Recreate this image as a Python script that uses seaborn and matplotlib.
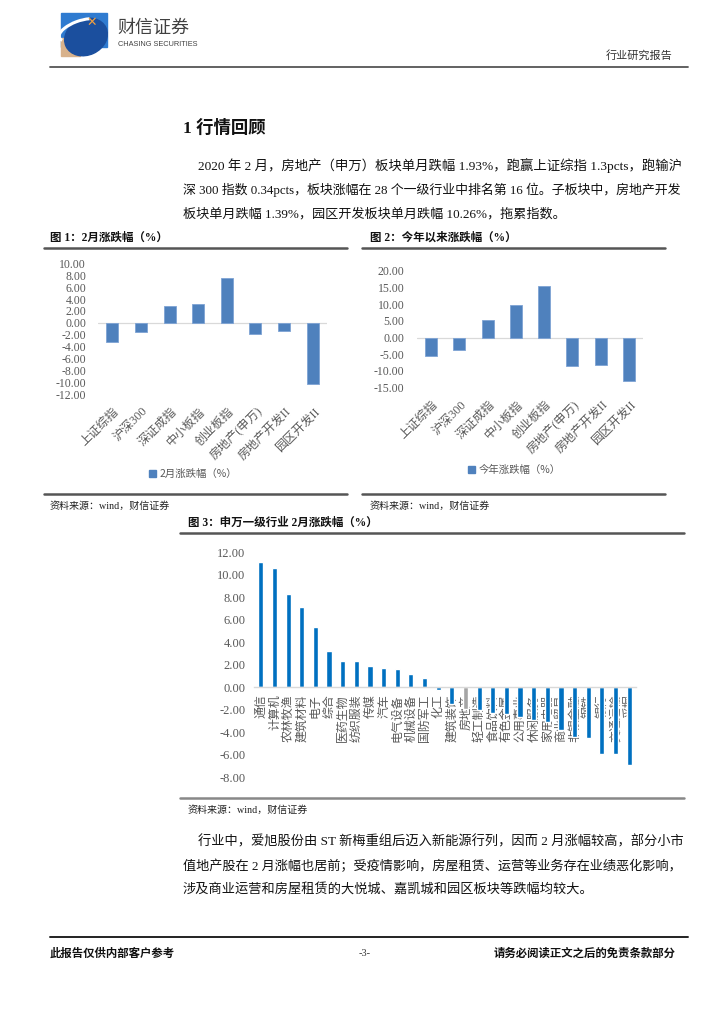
import numpy as np
import pandas as pd
import matplotlib
matplotlib.use("Agg")
import matplotlib.pyplot as plt
import matplotlib.transforms as mtransforms
import seaborn as sns
from matplotlib.patches import Rectangle, Ellipse, Arc, Patch

# ---------------- data ----------------
fig1_cats = ["上证综指", "沪深300", "深证成指", "中小板指", "创业板指",
             "房地产(申万)", "房地产开发II", "园区开发II"]
fig1_vals = [-3.23, -1.59, 2.80, 3.10, 7.50, -1.93, -1.39, -10.26]
fig1_ticks = [10, 8, 6, 4, 2, 0, -2, -4, -6, -8, -10, -12]
fig1_legend = "2月涨跌幅（%）"

fig2_cats = fig1_cats
fig2_vals = [-5.60, -3.80, 5.20, 9.60, 15.30, -8.40, -8.10, -13.10]
fig2_ticks = [20, 15, 10, 5, 0, -5, -10, -15]
fig2_legend = "今年涨跌幅（%）"

fig3_cats = ["通信", "计算机", "农林牧渔", "建筑材料", "电子", "综合", "医药生物",
             "纺织服装", "传媒", "汽车", "电气设备", "机械设备", "国防军工", "化工",
             "建筑装饰", "房地产", "轻工制造", "食品饮料", "有色金属", "公用事业",
             "休闲服务", "家用电器", "商业贸易", "非银金融", "钢铁", "银行",
             "交通运输", "采掘"]
fig3_vals = [11.10, 10.60, 8.30, 7.15, 5.35, 3.20, 2.35, 2.33, 1.85, 1.75, 1.65,
             1.18, 0.85, -0.20, -1.50, -1.93, -2.00, -2.30, -2.40, -2.65, -2.90,
             -3.05, -3.80, -4.40, -4.50, -5.95, -5.95, -6.90]
fig3_ticks = [12, 10, 8, 6, 4, 2, 0, -2, -4, -6, -8]
fig3_highlight = "房地产"

para1 = ["2020 年 2 月，房地产（申万）板块单月跌幅 1.93%，跑赢上证综指 1.3pcts，跑输沪",
         "深 300 指数 0.34pcts，板块涨幅在 28 个一级行业中排名第 16 位。子板块中，房地产开发",
         "板块单月跌幅 1.39%，园区开发板块单月跌幅 10.26%，拖累指数。"]
para2 = ["行业中，爱旭股份由 ST 新梅重组后迈入新能源行列，因而 2 月涨幅较高，部分小市",
         "值地产股在 2 月涨幅也居前；受疫情影响，房屋租赁、运营等业务存在业绩恶化影响，",
         "涉及商业运营和房屋租赁的大悦城、嘉凯城和园区板块等跌幅均较大。"]

# ---------------- style ----------------
sns.set_theme(style="white")
SERIF = ["Liberation Serif", "Noto Sans CJK SC"]
SANS = ["Noto Sans CJK SC", "DejaVu Sans"]
plt.rcParams["font.family"] = SERIF
plt.rcParams["axes.unicode_minus"] = False

BLUE1 = "#4F81BD"
BLUE3 = "#0070C0"
GREY3 = "#A5A5A5"
TXT = "#595959"

W, H = 724, 1024
fig = plt.figure(figsize=(W / 100, H / 100), dpi=100)
fig.patch.set_facecolor("white")

page = fig.add_axes([0, 0, 1, 1], zorder=0)
page.set_xlim(0, W)
page.set_ylim(H, 0)
page.axis("off")


def px_axes(x0, y0, x1, y1):
    return fig.add_axes([x0 / W, 1 - y1 / H, (x1 - x0) / W, (y1 - y0) / H], zorder=2)


# ---------------- header ----------------
page.add_patch(Rectangle((61, 13), 46, 34, color="#2F7BD0", zorder=1))
page.add_patch(Rectangle((61, 38), 19, 18, color="#D8B28C", zorder=1))
page.add_patch(Ellipse((86, 37), 44, 36, angle=-25, color="#1B4F9E", zorder=2))
page.add_patch(Arc((80, 30), 44, 18, angle=-20, theta1=170, theta2=330,
                   color="white", lw=2.2, zorder=3))
page.text(92, 22, "✕", color="#F2A040", fontsize=9, ha="center", va="center",
          family=["DejaVu Sans"], zorder=4, fontweight="bold")
page.text(117, 28, "财信证券", fontsize=13, color="#404040", family=SANS,
          va="center", ha="left")
page.text(118, 44.5, "CHASING SECURITIES", fontsize=5.3, color="#404040",
          family=["Liberation Sans", "DejaVu Sans"], va="center", ha="left")
page.text(672, 55, "行业研究报告", fontsize=8, color="#333333", family=SANS,
          ha="right", va="center")
page.plot([50, 688], [67, 67], color="#555555", lw=1.3)

# ---------------- section title ----------------
page.text(183, 128, "1 行情回顾", fontsize=12.5, fontweight="bold", color="#111111",
          family=SERIF, va="center", ha="left")


def paragraph(lines, y0):
    arts = []
    for i, line in enumerate(lines):
        x = 198 if i == 0 else 183
        t = page.text(x, y0 + 24 * i, line, fontsize=9.2, color="#111111",
                      family=SERIF, va="center", ha="left")
        arts.append((t, 682 - x))
    return arts


para_arts = [paragraph(para1, 166), paragraph(para2, 842)]


# ---------------- small charts ----------------
def small_chart(ax, cats, vals, ticks, ypad):
    df = pd.DataFrame({"cat": cats, "val": vals})
    sns.barplot(data=df, x="cat", y="val", color=BLUE1, width=0.42, saturation=1,
                ax=ax, edgecolor="#7EA3D4", linewidth=0.6)
    ax.set_xlim(-0.5, len(cats) - 0.5)
    ax.set_ylim(ticks[-1], ticks[0])
    ax.set_yticks(ticks)
    ax.set_yticklabels([f"{t:.2f}" for t in ticks])
    ax.axhline(0, color="#D9D9D9", lw=0.9, zorder=0.5)
    for s in ax.spines.values():
        s.set_visible(False)
    ax.set_facecolor("none")
    ax.set_xlabel("")
    ax.set_ylabel("")
    ax.tick_params(axis="y", length=0, colors=TXT, labelsize=8.5, pad=ypad)
    ax.tick_params(axis="x", length=0, colors=TXT, labelsize=8.7, pad=11)
    ax.set_xticks(range(len(cats)))
    ax.set_xticklabels(cats, rotation=45, ha="right", va="center",
                       rotation_mode="anchor")
    off = mtransforms.ScaledTranslation(5 / 100, 0, fig.dpi_scale_trans)
    for lab in ax.get_xticklabels():
        lab.set_transform(lab.get_transform() + off)


# Figure 1
page.text(50, 238, "图 1：2月涨跌幅（%）", fontsize=8.3, fontweight="bold",
          family=SERIF, color="#111111", va="center")
page.plot([44, 347], [247.5, 247.5], color="#555555", lw=1.8)
ax1 = px_axes(98, 263.3, 327, 394.3)
small_chart(ax1, fig1_cats, fig1_vals, fig1_ticks, ypad=8.5)
page.plot([44, 347], [493.5, 493.5], color="#555555", lw=1.8)
page.text(50, 506, "资料来源：wind，财信证券", fontsize=7.2, family=SERIF,
          color="#222222", va="center")
fig.legend(handles=[Patch(color=BLUE1, label=fig1_legend)], loc="center",
           bbox_to_anchor=(193 / W, 1 - 474 / H), frameon=False, handlelength=0.7,
           handleheight=0.7, handletextpad=0.3,
           prop={"family": SANS, "size": 7.5}, labelcolor=TXT)

# Figure 2
page.text(370, 238, "图 2：今年以来涨跌幅（%）", fontsize=8.3, fontweight="bold",
          family=SERIF, color="#111111", va="center")
page.plot([362, 665], [247.5, 247.5], color="#555555", lw=1.8)
ax2 = px_axes(417, 270.7, 643, 387.7)
small_chart(ax2, fig2_cats, fig2_vals, fig2_ticks, ypad=9)
page.plot([362, 665], [493.5, 493.5], color="#555555", lw=1.8)
page.text(370, 506, "资料来源：wind，财信证券", fontsize=7.2, family=SERIF,
          color="#222222", va="center")
fig.legend(handles=[Patch(color=BLUE1, label=fig2_legend)], loc="center",
           bbox_to_anchor=(514 / W, 1 - 470 / H), frameon=False, handlelength=0.7,
           handleheight=0.7, handletextpad=0.3,
           prop={"family": SANS, "size": 7.5}, labelcolor=TXT)

# ---------------- Figure 3 ----------------
page.text(188, 522.5, "图 3：申万一级行业 2月涨跌幅（%）", fontsize=8.3,
          fontweight="bold", family=SERIF, color="#111111", va="center")
page.plot([180, 684], [533, 533], color="#555555", lw=1.8)

ax3 = px_axes(254, 552.3, 636, 777.3)
df3 = pd.DataFrame({"cat": fig3_cats, "val": fig3_vals})
pal3 = {c: (GREY3 if c == fig3_highlight else BLUE3) for c in fig3_cats}
sns.barplot(data=df3, x="cat", y="val", hue="cat", palette=pal3, width=0.38,
            saturation=1, legend=False, ax=ax3)
ax3.set_xlim(-0.5, len(fig3_cats) - 0.5)
ax3.set_ylim(fig3_ticks[-1], fig3_ticks[0])
ax3.set_yticks(fig3_ticks)
ax3.set_yticklabels([f"{t:.2f}" for t in fig3_ticks])
for k in ["top", "right", "left"]:
    ax3.spines[k].set_visible(False)
ax3.spines["bottom"].set_position(("data", 0))
ax3.spines["bottom"].set_color("#D9D9D9")
ax3.spines["bottom"].set_linewidth(1.0)
ax3.set_facecolor("none")
ax3.set_xlabel("")
ax3.set_ylabel("")
ax3.tick_params(axis="y", length=0, colors=TXT, labelsize=9, pad=6)
ax3.tick_params(axis="x", length=0, colors=TXT, labelsize=8.6, pad=5)
ax3.set_xticks(range(len(fig3_cats)))
ax3.set_xticklabels(fig3_cats, rotation=90, ha="center", va="top", family=SANS)

page.plot([180, 684], [798, 798], color="#888888", lw=1.8)
page.text(188, 810, "资料来源：wind，财信证券", fontsize=7.2, family=SERIF,
          color="#222222", va="center")

# ---------------- footer ----------------
page.plot([50, 688], [937, 937], color="#222222", lw=1.4)
page.text(50, 953, "此报告仅供内部客户参考", fontsize=8.2, fontweight="bold",
          family=SERIF, color="#111111", va="center", ha="left")
page.text(365, 953, "-3-", fontsize=7.5, family=SERIF, color="#333333",
          va="center", ha="center")
page.text(676, 953, "请务必阅读正文之后的免责条款部分", fontsize=8.2,
          fontweight="bold", family=SERIF, color="#111111", va="center", ha="right")

# ---------------- fit justified paragraph lines to column width ----------------
fig.canvas.draw()
renderer = fig.canvas.get_renderer()
for arts in para_arts:
    sizes = []
    for t, target in arts[:-1]:
        w = t.get_window_extent(renderer).width
        s = t.get_fontsize() * target / w
        t.set_fontsize(s)
        sizes.append(s)
    arts[-1][0].set_fontsize(float(np.mean(sizes)))

fig.savefig("out.png", dpi=100, facecolor="white")
